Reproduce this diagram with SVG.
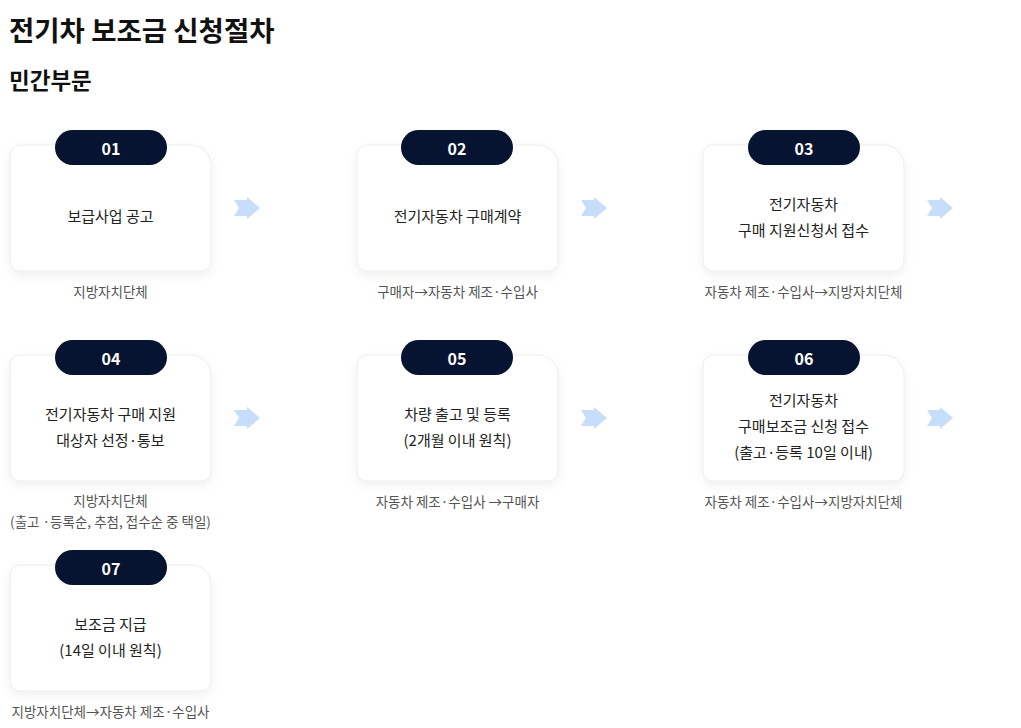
<svg xmlns="http://www.w3.org/2000/svg" width="1021" height="728" viewBox="0 0 1021 728">
<defs>
<filter id="sh" x="-20%" y="-20%" width="140%" height="150%">
<feDropShadow dx="0" dy="4" stdDeviation="5" flood-color="#000" flood-opacity="0.06"/>
</filter>
<path id="card" d="M10,0 H181 A20,20 0 0 1 201,20 V116 A10,10 0 0 1 191,126 H10 A10,10 0 0 1 0,116 V10 A10,10 0 0 1 10,0 Z"/>
<path id="arr" d="M0,3 H13 V0 L26,11 L13,22 V19 H0 L5,11 Z"/>
</defs>
<style>
.card{fill:#fff;stroke:#ececec;stroke-width:1;filter:url(#sh)}
.pill{fill:#071431}
.num{font-family:"Noto Sans CJK KR","Noto Sans",sans-serif;font-weight:700;font-size:16px;fill:#fff;text-anchor:middle}
.ct{font-family:"Noto Sans CJK KR",sans-serif;font-size:15px;fill:#222;text-anchor:middle}
.lb{font-family:"Noto Sans CJK KR",sans-serif;font-size:13.5px;fill:#555;text-anchor:middle}
.arrow{fill:#c6ddfb}
.h1{font-family:"Noto Sans CJK KR",sans-serif;font-weight:700;font-size:27.5px;fill:#111}
.h2{font-family:"Noto Sans CJK KR",sans-serif;font-weight:700;font-size:22.5px;fill:#111}
</style>
<rect width="1021" height="728" fill="#fff"/>
<text class="h1" x="9" y="41">전기차 보조금 신청절차</text>
<text class="h2" x="9" y="89">민간부문</text>

<g id="connectors">
<use href="#arr" class="arrow" x="234" y="197"/>
<use href="#arr" class="arrow" x="581" y="197"/>
<use href="#arr" class="arrow" x="927" y="197"/>
<use href="#arr" class="arrow" x="234" y="407"/>
<use href="#arr" class="arrow" x="581" y="407"/>
<use href="#arr" class="arrow" x="927" y="407"/>
</g>

<g id="step01">
<use href="#card" class="card" x="10" y="145"/>
<rect class="pill" x="55" y="130" width="112" height="35" rx="17.5"/>
<text class="num" x="111" y="154.5">01</text>
<text class="ct" x="110.5" y="222">보급사업 공고</text>
<text class="lb" x="110.5" y="297">지방자치단체</text>
</g>

<g id="step02">
<use href="#card" class="card" x="357" y="145"/>
<rect class="pill" x="401" y="130" width="112" height="35" rx="17.5"/>
<text class="num" x="457" y="154.5">02</text>
<text class="ct" x="457.5" y="222">전기자동차 구매계약</text>
<text class="lb" x="457.5" y="297">구매자→자동차 제조·수입사</text>
</g>

<g id="step03">
<use href="#card" class="card" x="703" y="145"/>
<rect class="pill" x="748" y="130" width="112" height="35" rx="17.5"/>
<text class="num" x="804" y="154.5">03</text>
<text class="ct" x="803.5" y="210">전기자동차</text>
<text class="ct" x="803.5" y="236">구매 지원신청서 접수</text>
<text class="lb" x="803.5" y="297">자동차 제조·수입사→지방자치단체</text>
</g>

<g id="step04">
<use href="#card" class="card" x="10" y="355"/>
<rect class="pill" x="55" y="340" width="112" height="35" rx="17.5"/>
<text class="num" x="111" y="364.5">04</text>
<text class="ct" x="110.5" y="420">전기자동차 구매 지원</text>
<text class="ct" x="110.5" y="446">대상자 선정·통보</text>
<text class="lb" x="110.5" y="506">지방자치단체</text>
<text class="lb" x="110.5" y="527">(출고 ·등록순, 추첨, 접수순 중 택일)</text>
</g>

<g id="step05">
<use href="#card" class="card" x="357" y="355"/>
<rect class="pill" x="401" y="340" width="112" height="35" rx="17.5"/>
<text class="num" x="457" y="364.5">05</text>
<text class="ct" x="457.5" y="420">차량 출고 및 등록</text>
<text class="ct" x="457.5" y="446">(2개월 이내 원칙)</text>
<text class="lb" x="457.5" y="507">자동차 제조·수입사 →구매자</text>
</g>

<g id="step06">
<use href="#card" class="card" x="703" y="355"/>
<rect class="pill" x="748" y="340" width="112" height="35" rx="17.5"/>
<text class="num" x="804" y="364.5">06</text>
<text class="ct" x="803.5" y="406">전기자동차</text>
<text class="ct" x="803.5" y="432">구매보조금 신청 접수</text>
<text class="ct" x="803.5" y="458" fill="#444">(출고·등록 10일 이내)</text>
<text class="lb" x="803.5" y="507">자동차 제조·수입사→지방자치단체</text>
</g>

<g id="step07">
<use href="#card" class="card" x="10" y="565"/>
<rect class="pill" x="55" y="550" width="112" height="35" rx="17.5"/>
<text class="num" x="111" y="574.5">07</text>
<text class="ct" x="110.5" y="630">보조금 지급</text>
<text class="ct" x="110.5" y="656">(14일 이내 원칙)</text>
<text class="lb" x="110.5" y="717">지방자치단체→자동차 제조·수입사</text>
</g>
</svg>
